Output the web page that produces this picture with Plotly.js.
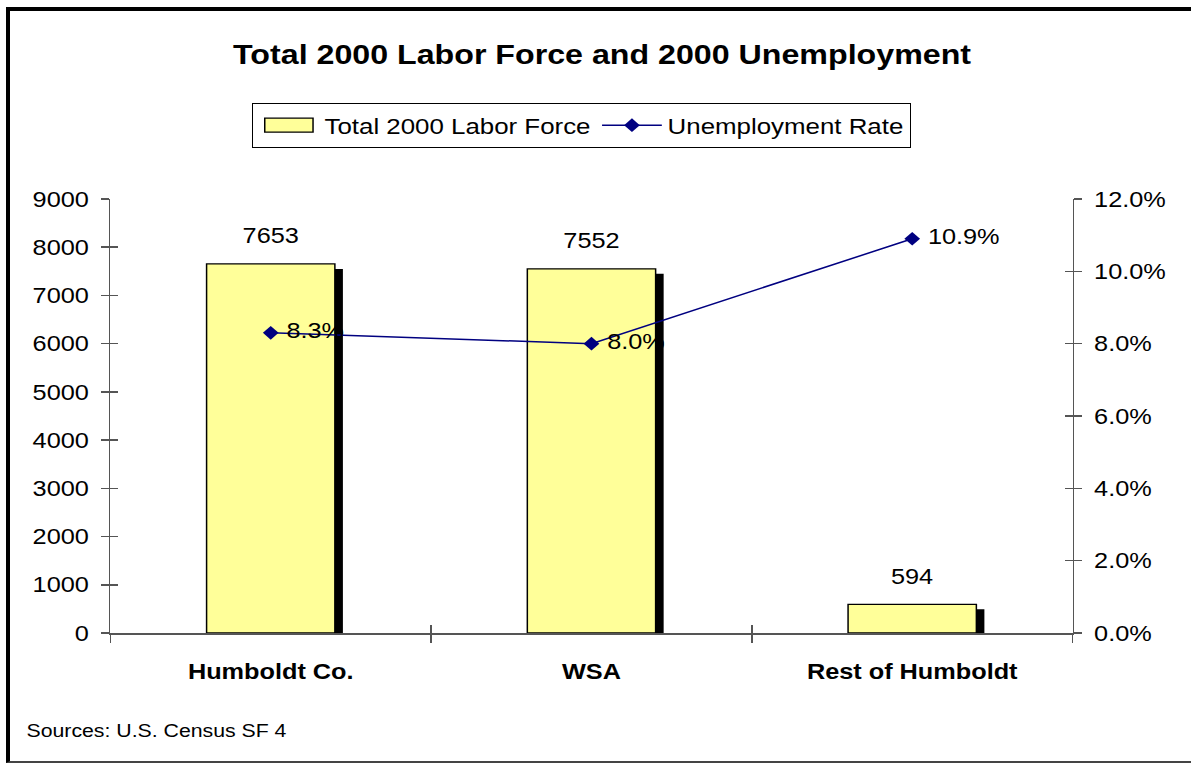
<!DOCTYPE html>
<html>
<head>
<meta charset="utf-8">
<script src="https://cdn.plot.ly/plotly-3.0.1.min.js"></script>
<style>
  html, body { margin: 0; padding: 0; background: #fff; }
  #wrap { position: relative; width: 1191px; height: 763px; overflow: hidden; }
  #chart { position: absolute; left: 0; top: 0; width: 1036px; height: 763px;
           transform: scaleX(1.149614); transform-origin: 0 0; }
  #frame { position: absolute; left: 6px; top: 7px; width: 1300px; height: 750px;
           border-left: 4px solid #000; border-top: 4px solid #000; border-bottom: 2px solid #444;
           pointer-events: none; }
  /* flat, wide swatch for the bar series legend entry */
  #chart .legend .traces:first-child .legendpoints path {
    d: path("M21,7H-21V-7H21Z");
    stroke-width: 1.5px;
  }
</style>
</head>
<body>
<div id="wrap">
  <div id="chart"></div>
  <div id="frame"></div>
</div>
<script>
const categories = ["Humboldt Co.", "WSA", "Rest of Humboldt"];
const laborForce = [7653, 7552, 594];
const unemploymentRate = [0.083, 0.080, 0.109];
const rateLabels = ["8.3%", "8.0%", "10.9%"];
const leftTicks = [0, 1000, 2000, 3000, 4000, 5000, 6000, 7000, 8000, 9000];
const rightTicks = [0, 0.02, 0.04, 0.06, 0.08, 0.10, 0.12];

const FONT = "Arial, 'Liberation Sans', sans-serif";
const barWidth = 0.4;
const shadowDx = 0.025;   // category units
const shadowDrop = 104;   // value units (~5px)

const shadow = {
  type: "bar", x: categories, y: laborForce.map(v => Math.max(v - shadowDrop, 0)),
  width: barWidth, offset: -barWidth / 2 + shadowDx,
  marker: { color: "#000", line: { width: 0 } },
  showlegend: false, hoverinfo: "skip", xaxis: "x", yaxis: "y"
};
const bars = {
  type: "bar", name: "Total 2000 Labor Force", x: categories, y: laborForce,
  width: barWidth, offset: -barWidth / 2,
  marker: { color: "#FFFF99", line: { color: "#000", width: 1.3 } },
  xaxis: "x", yaxis: "y"
};
const line = {
  type: "scatter", mode: "lines+markers+text", name: "Unemployment Rate",
  x: categories, y: unemploymentRate, text: rateLabels, textposition: "middle right",
  texttemplate: "\u00a0%{text}",
  textfont: { family: FONT, size: 22, color: "#000" },
  line: { color: "#000080", width: 1.5 },
  marker: { symbol: "diamond", size: 10.5, color: "#000080" },
  xaxis: "x", yaxis: "y2", cliponaxis: false
};
const dummy = {
  type: "scatter", mode: "markers", x: categories, y: [null, null, null],
  xaxis: "x2", yaxis: "y3", showlegend: false, hoverinfo: "skip"
};
const dummy2 = {
  type: "scatter", mode: "markers", x: categories, y: [null, null, null],
  xaxis: "x", yaxis: "y4", showlegend: false, hoverinfo: "skip"
};

const annotations = categories.map((c, i) => ({
  x: c, y: laborForce[i], xref: "x", yref: "y", text: String(laborForce[i]),
  showarrow: false, yanchor: "middle", yshift: 28,
  font: { family: FONT, size: 22, color: "#000" }
}));
annotations.push({
  xref: "paper", yref: "paper", x: -0.0893, y: -0.2258, xanchor: "left", yanchor: "middle",
  text: "Sources: U.S. Census SF 4", showarrow: false,
  font: { family: FONT, size: 18.5, color: "#000" }
});

const axisCol = "#555";
const layout = {
  width: 1036, height: 763,
  margin: { l: 96, r: 103, t: 199, b: 130, pad: 0 },
  paper_bgcolor: "rgba(0,0,0,0)", plot_bgcolor: "rgba(0,0,0,0)",
  barmode: "overlay",
  font: { family: FONT, color: "#000" },
  title: { text: "<b>Total 2000 Labor Force and 2000 Unemployment</b>",
           font: { family: FONT, size: 28, color: "#000" },
           x: 0.5055, xref: "container", y: 1 - 54 / 763, yref: "container", yanchor: "middle" },
  xaxis: {
    type: "category", categoryarray: categories, range: [-0.5, 2.5],
    showline: true, linecolor: axisCol, linewidth: 1.5,
    ticks: "outside", ticklen: 8, tickcolor: axisCol, tickwidth: 1.3, tickson: "boundaries",
    tickfont: { family: FONT, size: 22, color: "#000", weight: "bold" },
    ticklabelstandoff: 18, showgrid: false, zeroline: false, fixedrange: true
  },
  xaxis2: {
    type: "category", categoryarray: categories, range: [-0.5, 2.5], overlaying: "x",
    anchor: "y3", ticks: "inside", ticklen: 8, tickcolor: axisCol, tickwidth: 1.3,
    tickson: "boundaries", showticklabels: false, showgrid: false, zeroline: false, showline: false
  },
  yaxis: {
    range: [0, 9000], tickvals: leftTicks, showline: true, linecolor: axisCol, linewidth: 1.3,
    ticks: "outside", ticklen: 7, tickcolor: axisCol, tickwidth: 1.5,
    tickfont: { family: FONT, size: 22, color: "#000" }, ticklabelstandoff: 6,
    showgrid: false, zeroline: false
  },
  yaxis3: {
    range: [0, 9000], tickvals: leftTicks, overlaying: "y", side: "left",
    ticks: "inside", ticklen: 7, tickcolor: axisCol, tickwidth: 1.5,
    showticklabels: false, showgrid: false, zeroline: false, showline: false
  },
  yaxis2: {
    range: [0, 0.12], tickvals: rightTicks, tickformat: ".1%", overlaying: "y", side: "right",
    showline: true, linecolor: axisCol, linewidth: 1.3,
    ticks: "outside", ticklen: 7, tickcolor: axisCol, tickwidth: 1.5,
    tickfont: { family: FONT, size: 22, color: "#000" }, ticklabelstandoff: 6,
    showgrid: false, zeroline: false
  },
  yaxis4: {
    range: [0, 0.12], tickvals: rightTicks, overlaying: "y", side: "right",
    ticks: "inside", ticklen: 7, tickcolor: axisCol, tickwidth: 1.5,
    showticklabels: false, showgrid: false, zeroline: false, showline: false
  },
  legend: {
    orientation: "h", x: 0.4896, xanchor: "center", y: (633 - 103) / 434, yanchor: "top",
    bordercolor: "#000", borderwidth: 1, bgcolor: "#fff", itemwidth: 52,
    font: { family: FONT, size: 22.5, color: "#000" }, traceorder: "normal"
  },
  annotations: annotations,
  showlegend: true
};

Plotly.newPlot("chart", [shadow, bars, line, dummy, dummy2], layout, { staticPlot: true });
</script>
</body>
</html>
